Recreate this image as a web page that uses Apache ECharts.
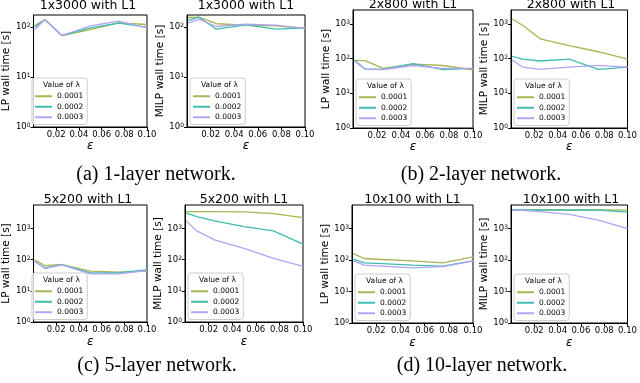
<!DOCTYPE html>
<html><head><meta charset="utf-8">
<script src="https://cdn.jsdelivr.net/npm/echarts@6/dist/echarts.min.js"></script>
<style>html,body{margin:0;padding:0;background:#fff}#c{width:640px;height:383px}</style>
</head><body><div id="c"></div>
<script>
const epsValues = [0.001, 0.01, 0.025, 0.05, 0.075, 0.1];
const lambdas = ['0.0001', '0.0002', '0.0003'];
const xTicks = [0.02, 0.04, 0.06, 0.08, 0.10];
const yTickExps = [0, 1, 2, 3];
const titles = ['1x3000 with L1', '1x3000 with L1', '2x800 with L1', '2x800 with L1',
                '5x200 with L1', '5x200 with L1', '10x100 with L1', '10x100 with L1'];
const yNames = ['LP wall time [s]', 'MILP wall time [s]', 'LP wall time [s]', 'MILP wall time [s]',
                'LP wall time [s]', 'MILP wall time [s]', 'LP wall time [s]', 'MILP wall time [s]'];
const captions = ['(a) 1-layer network.', '(b) 2-layer network.', '(c) 5-layer network.', '(d) 10-layer network.'];
const yMax = [175, 175, 2500, 2500, 5700, 5700, 5700, 5700];

// wall times [s] per lambda (rows) at each epsilon
const lp1x3000   = [[108, 142, 68, 89, 122, 113], [100, 140, 68, 97, 120, 100], [88, 142, 68, 106, 132, 97]];
const milp1x3000 = [[156, 158, 117, 110, 106, 95], [136, 158, 91, 111, 91, 97], [120, 145, 103, 115, 110, 94]];
const lp2x800    = [[89, 87, 52, 69, 63, 47], [91, 50, 49, 71, 48, 52], [87, 49, 48, 63, 52, 52]];
const milp2x800  = [[1380, 910, 370, 236, 157, 96], [115, 96, 85, 96, 49, 57], [91, 57, 49, 57, 64, 57]];
const lp5x200    = [[100, 65, 70, 43, 40, 43], [89, 55, 70, 38, 38, 48], [89, 52, 68, 35, 35, 45]];
const milp5x200  = [[3500, 3500, 3500, 3450, 3000, 2250], [3100, 2400, 1760, 1160, 840, 316], [1760, 840, 435, 230, 110, 61]];
const lp10x100   = [[162, 113, 105, 95, 82, 127], [108, 82, 78, 70, 65, 95], [95, 70, 65, 57, 62, 93]];
const milp10x100 = [[3950, 3950, 3950, 3950, 3950, 3900], [3950, 3950, 3950, 3950, 3900, 3400], [3950, 3850, 3500, 2870, 1890, 1000]];
const panels = [lp1x3000, milp1x3000, lp2x800, milp2x800, lp5x200, milp5x200, lp10x100, milp10x100];

const colors = ['#a9b453', '#3fbdb0', '#b3a3f6'];
const grids = [
  {left: 29, top: 15, width: 118, height: 112},
  {left: 187, top: 15, width: 118, height: 112},
  {left: 353, top: 10, width: 120, height: 118},
  {left: 511, top: 10, width: 120, height: 118},
  {left: 29, top: 205, width: 118, height: 117},
  {left: 185, top: 205, width: 118, height: 117},
  {left: 352, top: 205, width: 121, height: 118},
  {left: 511, top: 205, width: 120, height: 118}
];
const captionPos = [[156, 175], [481, 175], [157, 366], [482, 366]];

const chart = echarts.init(document.getElementById('c'), null, {renderer: 'canvas'});
const grid = [], xAxis = [], yAxis = [], series = [], legend = [], title = [], graphic = [];
panels.forEach((vals, i) => {
  const g = grids[i];
  grid.push(Object.assign({show: true, borderColor: '#000', borderWidth: 1, containLabel: false}, g));
  xAxis.push({
    type: 'value', gridIndex: i, min: 0, max: 0.1, interval: 0.02,
    name: 'ε', nameLocation: 'middle', nameGap: i < 4 ? 12 : 14,
    nameTextStyle: {fontSize: 12, fontStyle: 'italic', fontFamily: 'DejaVu Sans', color: '#000'},
    axisLine: {show: true, lineStyle: {color: '#000', width: 1}},
    axisTick: {show: true, length: 3, lineStyle: {color: '#000'}},
    splitLine: {show: false},
    axisLabel: {fontSize: 8.5, color: '#000', fontFamily: 'DejaVu Sans', margin: 3, showMinLabel: false,
      formatter: v => xTicks.some(t => Math.abs(t - v) < 1e-9) ? v.toFixed(2) : ''}
  });
  yAxis.push({
    type: 'log', logBase: 10, gridIndex: i, min: 1, max: yMax[i], splitNumber: i < 2 ? 2 : 3,
    name: yNames[i], nameLocation: 'middle', nameGap: 18,
    nameTextStyle: {fontSize: 10.5, fontFamily: 'DejaVu Sans', color: '#000'},
    axisLine: {show: true, lineStyle: {color: '#000', width: 1}},
    axisTick: {show: true, length: 3, lineStyle: {color: '#000'}},
    splitLine: {show: false},
    axisLabel: {margin: 3, showMaxLabel: false,
      formatter: v => {
        const e = Math.round(Math.log10(v));
        if (!yTickExps.includes(e) || Math.abs(Math.log10(v) - e) > 1e-6) return '';
        return '{b|10}{s|' + e + '}';
      },
      rich: {b: {fontSize: 8.5, color: '#000', fontFamily: 'DejaVu Sans'},
             s: {fontSize: 6, color: '#000', fontFamily: 'DejaVu Sans', verticalAlign: 'top'}}}
  });
  vals.forEach((row, k) => {
    series.push({
      type: 'line', name: lambdas[k], xAxisIndex: i, yAxisIndex: i, symbol: 'none',
      data: epsValues.map((x, j) => [x, row[j]]),
      lineStyle: {width: 1.3, color: colors[k]}, itemStyle: {color: colors[k]},
      animation: false
    });
  });
  const lgLeft = g.left + 3, lgTop = g.top + g.height - 49;
  legend.push({
    data: lambdas.map(n => ({name: n, icon: 'rect'})), orient: 'vertical', left: lgLeft, top: lgTop,
    padding: [14, 4, 3, 3], itemGap: 2, itemWidth: 17, itemHeight: 2,
    textStyle: {fontSize: 7.5, color: '#000', fontFamily: 'DejaVu Sans', lineHeight: 8.5},
    borderColor: '#cccccc', borderWidth: 1, borderRadius: 3, backgroundColor: 'rgba(255,255,255,0.8)'
  });
  graphic.push({type: 'text', left: lgLeft + 11, top: lgTop + 3, z: 100,
    style: {text: 'Value of λ', font: '7.5px "DejaVu Sans"', fill: '#000'}});
  title.push({text: titles[i], left: g.left + g.width / 2, top: g.top - (i < 2 ? 16 : 12),
    textAlign: 'center', padding: 0,
    textStyle: {fontSize: 12.5, fontWeight: 'normal', color: '#000', fontFamily: 'DejaVu Sans'}});
});
captions.forEach((c, i) => {
  graphic.push({type: 'text', x: captionPos[i][0], y: captionPos[i][1],
    style: {text: c, font: '20px "Liberation Serif"', fill: '#000', align: 'center', verticalAlign: 'middle'}});
});

chart.setOption({animation: false, backgroundColor: '#fff', grid, xAxis, yAxis, series, legend, title, graphic});
</script></body></html>
